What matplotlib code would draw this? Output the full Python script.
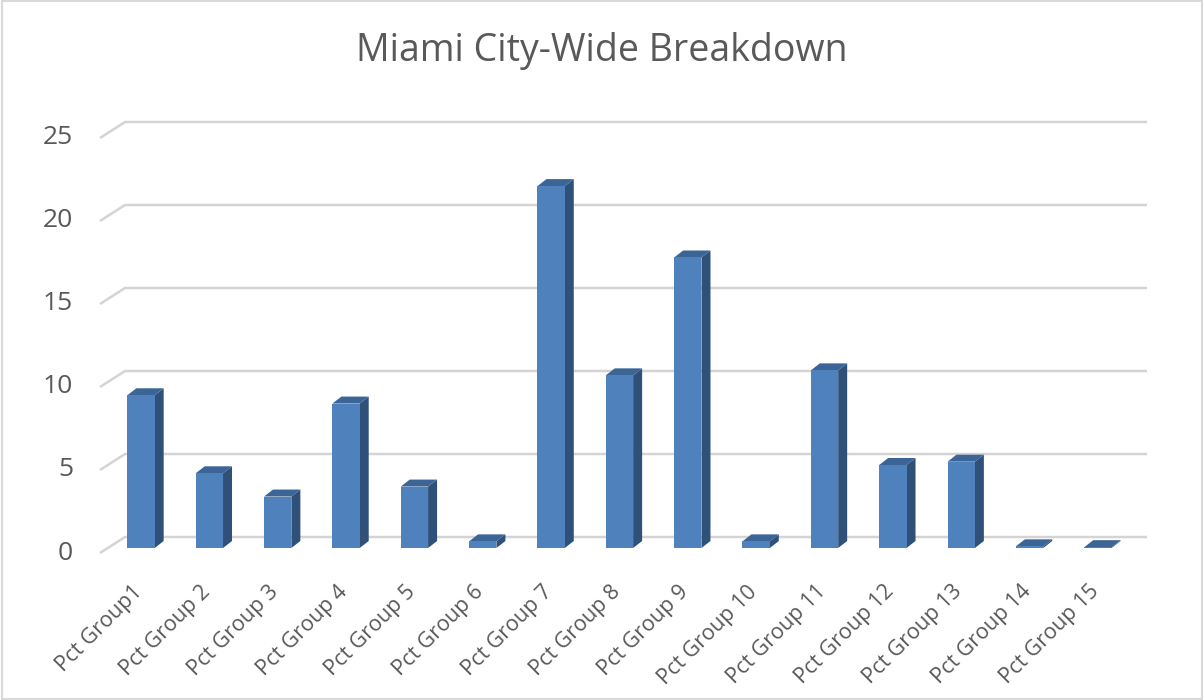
import matplotlib.pyplot as plt
from matplotlib.patches import Polygon, Rectangle

# Chart data
categories = ["Pct Group1", "Pct Group 2", "Pct Group 3", "Pct Group 4", "Pct Group 5",
              "Pct Group 6", "Pct Group 7", "Pct Group 8", "Pct Group 9", "Pct Group 10",
              "Pct Group 11", "Pct Group 12", "Pct Group 13", "Pct Group 14", "Pct Group 15"]
values = [9.2, 4.5, 3.1, 8.7, 3.7, 0.4, 21.8, 10.4, 17.5, 0.4, 10.7, 5.0, 5.2, 0.1, 0.05]
y_ticks = [0, 5, 10, 15, 20, 25]
title = "Miami City-Wide Breakdown"

# Style
FONT = ["Open Sans", "DejaVu Sans"]
TEXT_COLOR = "#595959"
GRID_COLOR = "#d4d4d4"
FRONT_COLOR = "#4f81bd"
SIDE_COLOR = "#2f5079"
TOP_COLOR = "#3b6497"

# pixel -> data scale of the axes (x: px per category, y: px per unit)
PX_X = 68.35
PX_Y = 16.6


def px_x(p):
    return p / PX_X


def px_y(p):
    return p / PX_Y


def draw_bar(ax, i, h, width=0.4):
    """Draw one pseudo-3D column (front, side and top faces)."""
    x0, x1 = i - width / 2, i + width / 2
    dx, dy = px_x(9), px_y(7)
    side = Polygon([(x1, 0), (x1 + dx, dy), (x1 + dx, h + dy), (x1, h)],
                   closed=True, facecolor=SIDE_COLOR, edgecolor="none", zorder=3)
    top = Polygon([(x0, h), (x1, h), (x1 + dx, h + dy), (x0 + dx, h + dy)],
                  closed=True, facecolor=TOP_COLOR, edgecolor="none", zorder=3)
    front = Rectangle((x0, 0), width, h, facecolor=FRONT_COLOR, edgecolor="none", zorder=4)
    for p in (side, top, front):
        ax.add_patch(p)


fig = plt.figure(figsize=(12.04, 7), dpi=100)
fig.patch.set_facecolor("white")

# axes placed so that the category/unit scales match the reference
left_px, right_px = 141 - 0.75 * PX_X, 141 + 14.9 * PX_X
bottom_px, top_px = 548 + 0.7 * PX_Y, 548 - 26.5 * PX_Y
ax = fig.add_axes([left_px / 1204, (700 - bottom_px) / 700,
                   (right_px - left_px) / 1204, (bottom_px - top_px) / 700])
ax.set_xlim(-0.75, 14.9)
ax.set_ylim(-0.7, 26.5)
ax.axis("off")

# Gridlines on the back wall with the slanted floor/wall edge on the left
gx_front, gx_back, gx_end = px_x(100 - 141), px_x(125 - 141), px_x(1147 - 141)
for v in y_ticks:
    yf = v - px_y(5)
    yb = v + px_y(11)
    ax.plot([gx_front, gx_back, gx_end], [yf, yb, yb], color=GRID_COLOR, lw=1.8,
            solid_capstyle="butt", zorder=1, clip_on=False)
    ax.text(px_x(73 - 141), yf, str(v), ha="right", va="center", fontsize=19,
            color=TEXT_COLOR, family=FONT)

# Columns
for i, h in enumerate(values):
    draw_bar(ax, i, h)

# Category labels
for i, name in enumerate(categories):
    ax.text(i - 0.03, -2.45, name, ha="right", va="center", rotation=45,
            rotation_mode="anchor", fontsize=15.5, color=TEXT_COLOR, family=FONT,
            clip_on=False)

fig.text(0.5, 1 - 51 / 700, title, ha="center", va="center", fontsize=27,
         color=TEXT_COLOR, family=FONT)

# chart border
fig.patches.append(Rectangle((0.002, 0.002), 0.996, 0.996, transform=fig.transFigure,
                             fill=False, edgecolor="#d9d9d9", lw=1.5))

fig.savefig("out.png", dpi=100)
